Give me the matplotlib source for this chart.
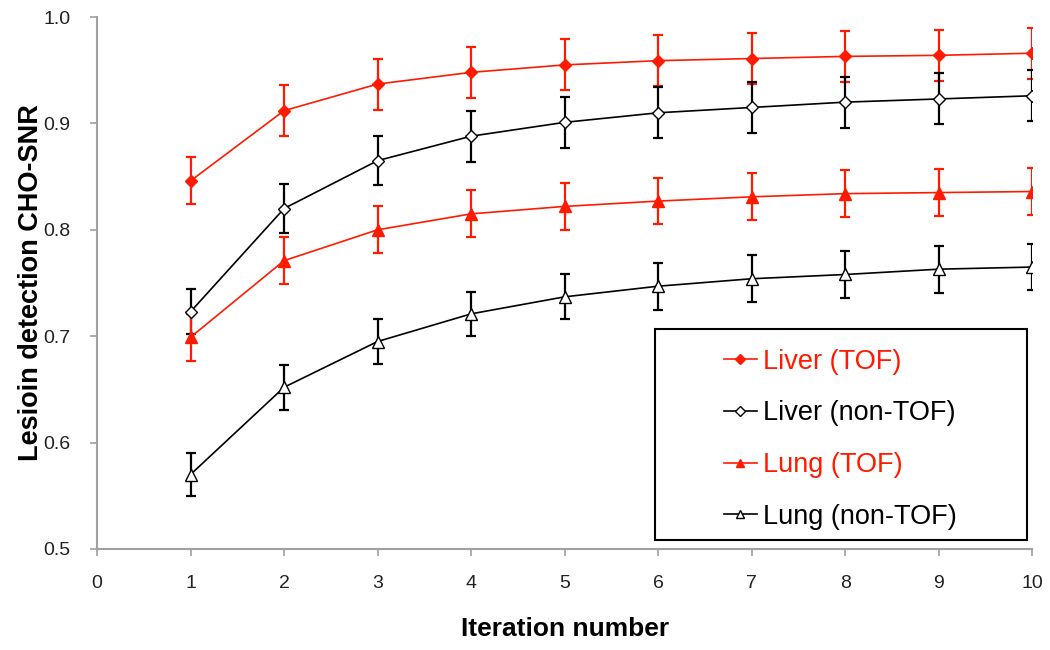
import matplotlib.pyplot as plt
from matplotlib.patches import Rectangle

plt.rcParams['font.family'] = ['Liberation Sans', 'DejaVu Sans']

# Data
iterations = [1, 2, 3, 4, 5, 6, 7, 8, 9, 10]

liver_tof = [0.846, 0.912, 0.937, 0.948, 0.955, 0.959, 0.961, 0.963, 0.964, 0.966]
liver_tof_err = [0.022, 0.024, 0.024, 0.024, 0.024, 0.024, 0.024, 0.024, 0.024, 0.024]

liver_nontof = [0.723, 0.820, 0.865, 0.888, 0.901, 0.910, 0.915, 0.920, 0.923, 0.926]
liver_nontof_err = [0.021, 0.023, 0.023, 0.024, 0.024, 0.024, 0.024, 0.024, 0.024, 0.024]

lung_tof = [0.699, 0.771, 0.800, 0.815, 0.822, 0.827, 0.831, 0.834, 0.835, 0.836]
lung_tof_err = [0.022, 0.022, 0.022, 0.022, 0.022, 0.022, 0.022, 0.022, 0.022, 0.022]

lung_nontof = [0.570, 0.652, 0.695, 0.721, 0.737, 0.747, 0.754, 0.758, 0.763, 0.765]
lung_nontof_err = [0.020, 0.021, 0.021, 0.021, 0.021, 0.022, 0.022, 0.022, 0.022, 0.022]

labels = ['Liver (TOF)', 'Liver (non-TOF)', 'Lung (TOF)', 'Lung (non-TOF)']

red = '#ff1a00'

fig = plt.figure(figsize=(10.5, 6.5), dpi=100)
ax = fig.add_axes([0.0924, 0.1554, 0.8906, 0.8184])

common = dict(linewidth=1.2, elinewidth=1.6, capsize=3.5, capthick=1.6)
h1 = ax.errorbar(iterations, liver_tof, yerr=liver_tof_err, color=red, marker='D',
                 markersize=6.5, markerfacecolor=red, markeredgecolor=red, **common)
h2 = ax.errorbar(iterations, liver_nontof, yerr=liver_nontof_err, color='black', marker='D',
                 markersize=6.5, markerfacecolor='white', markeredgecolor='black', **common)
h3 = ax.errorbar(iterations, lung_tof, yerr=lung_tof_err, color=red, marker='^',
                 markersize=8, markerfacecolor=red, markeredgecolor=red, **common)
h4 = ax.errorbar(iterations, lung_nontof, yerr=lung_nontof_err, color='black', marker='^',
                 markersize=8, markerfacecolor='white', markeredgecolor='black', **common)

ax.set_xlim(0, 10)
ax.set_ylim(0.5, 1.0)
ax.set_xticks(range(0, 11))
ax.set_yticks([0.5, 0.6, 0.7, 0.8, 0.9, 1.0])
ax.set_yticklabels(['0.5', '0.6', '0.7', '0.8', '0.9', '1.0'])

for s in ['top', 'right']:
    ax.spines[s].set_visible(False)
for s in ['left', 'bottom']:
    ax.spines[s].set_color('#a0a0a0')
    ax.spines[s].set_linewidth(1.5)
ax.tick_params(axis='both', direction='out', length=5, width=1.2, color='#a0a0a0',
               labelsize=14, labelcolor='#222222')
ax.tick_params(axis='x', pad=14)
ax.tick_params(axis='y', pad=14)

ax.set_xlabel('Iteration number', fontsize=19, fontweight='bold', labelpad=18)
ax.set_ylabel('Lesioin detection CHO-SNR', fontsize=19.5, fontweight='bold')
ax.yaxis.set_label_coords(-0.057, 0.5)

# Legend box
fig.patches.append(Rectangle((655 / 1050, 1 - 540 / 650), 372 / 1050, 211 / 650,
                             transform=fig.transFigure, fill=False, edgecolor='black',
                             linewidth=1.5, zorder=5))
leg = fig.legend([h1.lines[0], h2.lines[0], h3.lines[0], h4.lines[0]], labels,
                 loc='upper left', bbox_to_anchor=(710 / 1050, 1 - 335 / 650),
                 frameon=False, fontsize=19.5, borderpad=0, handlelength=1.25,
                 handletextpad=0.2, labelspacing=0.95, markerscale=0.8)
for txt, c in zip(leg.get_texts(), [red, 'black', red, 'black']):
    txt.set_color(c)

fig.savefig('out.png', dpi=100)
